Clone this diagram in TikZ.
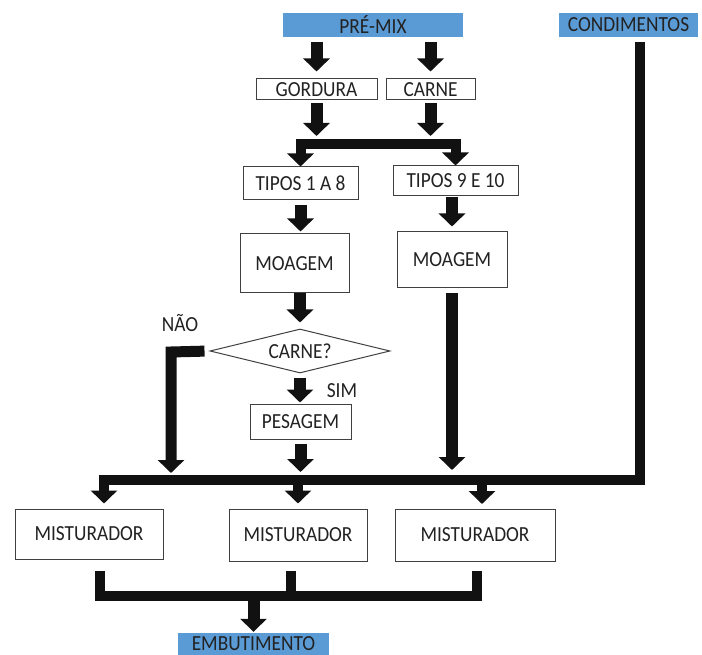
\documentclass[tikz,border=0pt]{standalone}
\usepackage{fontspec}
\setmainfont{Carlito}[FakeStretch=0.9]
\usetikzlibrary{arrows.meta,shapes.geometric}
\definecolor{ink}{HTML}{111111}
\definecolor{txt}{HTML}{222222}
\definecolor{frame}{HTML}{404040}
\definecolor{lblue}{HTML}{5B9BD5}
\begin{document}
\begin{tikzpicture}[x=1pt,y=-1pt,
  every node/.style={font=\fontsize{21.5}{24}\selectfont, text=txt, inner sep=0pt},
  box/.style 2 args={draw=frame, line width=1pt, fill=white, minimum width=#1, minimum height=#2},
  bluebox/.style 2 args={fill=lblue, minimum width=#1, minimum height=#2},
  blk/.style={draw=ink, line width=12pt, -{Triangle[length=13pt,width=26pt]}},
  bar/.style={draw=ink, line width=10pt, line join=miter},
  bararrow/.style={bar, -{Triangle[length=13pt,width=26pt]}},
  twohead/.style={bar, {Triangle[length=13pt,width=26pt]}-{Triangle[length=13pt,width=26pt]}}
]
\useasboundingbox (0,0) rectangle (702,655);

% process steps
\node[bluebox={180pt}{24pt}] (premix) at (373,25) {PRÉ-MIX};
\node[bluebox={139pt}{24pt}] (cond) at (628.5,25) {CONDIMENTOS};
\node[box={121pt}{21pt}] (gord) at (316.5,89.5) {GORDURA};
\node[box={89pt}{21pt}] (carne) at (430.5,89.5) {CARNE};
\node[box={115pt}{33pt}] (t18) at (300.5,183.5) {TIPOS 1 A 8};
\node[box={125pt}{30pt}] (t910) at (455.5,181) {TIPOS 9 E 10};
\node[box={109pt}{59pt}] (moa1) at (294.5,263.5) {MOAGEM};
\node[box={110pt}{56pt}] (moa2) at (452,260) {MOAGEM};
\node[draw=frame, line width=1pt, diamond, aspect=4.1, minimum width=180pt, minimum height=44pt] (q) at (300,351) {CARNE?};
\node[box={101pt}{35pt}] (pes) at (300.5,421.5) {PESAGEM};
\node[box={148pt}{50pt}] (m1) at (89,534) {MISTURADOR};
\node[box={138pt}{52pt}] (m2) at (298,535) {MISTURADOR};
\node[box={160pt}{52pt}] (m3) at (475,535) {MISTURADOR};
\node[bluebox={151pt}{22pt}] (emb) at (253.5,644) {EMBUTIMENTO};
\node (nao) at (180,323) {NÃO};
\node (sim) at (342,391) {SIM};

% junction points of the thick connectors
\coordinate (split) at (376.5,144);
\coordinate (busL) at (104,480);
\coordinate (busR) at (640,480);
\coordinate (noturn) at (171,352);
\coordinate (m3in) at (482,504);
\coordinate (j1) at (100,596);
\coordinate (j2) at (291,596);
\coordinate (j3) at (477,596);

% pre-mix into fat and meat
\draw[blk, shorten <=5pt, shorten >=7pt] (premix.south -| gord) -- (gord.north);
\draw[blk, shorten <=5pt, shorten >=7pt] (premix.south -| carne) -- (carne.north);
\draw[blk, shorten <=3pt, shorten >=8pt] (gord.south) -- (gord.south |- split);
\draw[blk, shorten <=3pt, shorten >=8pt] (carne.south) -- (carne.south |- split);
\draw[twohead] (t18.north) |- (split) -| (t910.north);

% grinding and decision
\draw[blk, shorten <=5pt, shorten >=2pt] (t18.south) -- (t18.south |- moa1.north);
\draw[blk, shorten <=1pt, shorten >=5pt] (moa2.north |- t910.south) -- (moa2.north);
\draw[blk, shorten >=6pt] (q.north |- moa1.south) -- (q.north);
\draw[blk, shorten <=5pt, shorten >=10pt] (moa2.south) -- (moa2.south |- busR);
\draw[blk, line width=11pt, line join=miter, shorten <=5pt, shorten >=7pt] (q.west) -- (noturn) -- (noturn |- busL);
\draw[blk, shorten <=4pt, shorten >=1pt] (q.south) -- (q.south |- pes.north);
\draw[blk, shorten <=4pt, shorten >=8pt] (pes.south) -- (pes.south |- busL);

% seasoning line feeding the mixers
\draw[bararrow, shorten <=5pt, shorten >=5pt] (cond.south -| busR) -- (busR) -- (busL) -- (busL |- m1.north);
\draw[bararrow, shorten >=5pt] (m2.north |- busL) -- (m2.north);
\draw[bararrow] (m3in |- busL) -- (m3in);

% mixers into stuffing
\draw[bar, shorten <=11pt, shorten >=9pt] (j1 |- m1.south) -- (j1) -- (j3) -- (j3 |- m3.south);
\draw[bar, shorten <=9pt] (j2 |- m2.south) -- (j2);
\draw[blk, shorten >=1pt] (emb.north |- j1) -- (emb.north);
\end{tikzpicture}
\end{document}
